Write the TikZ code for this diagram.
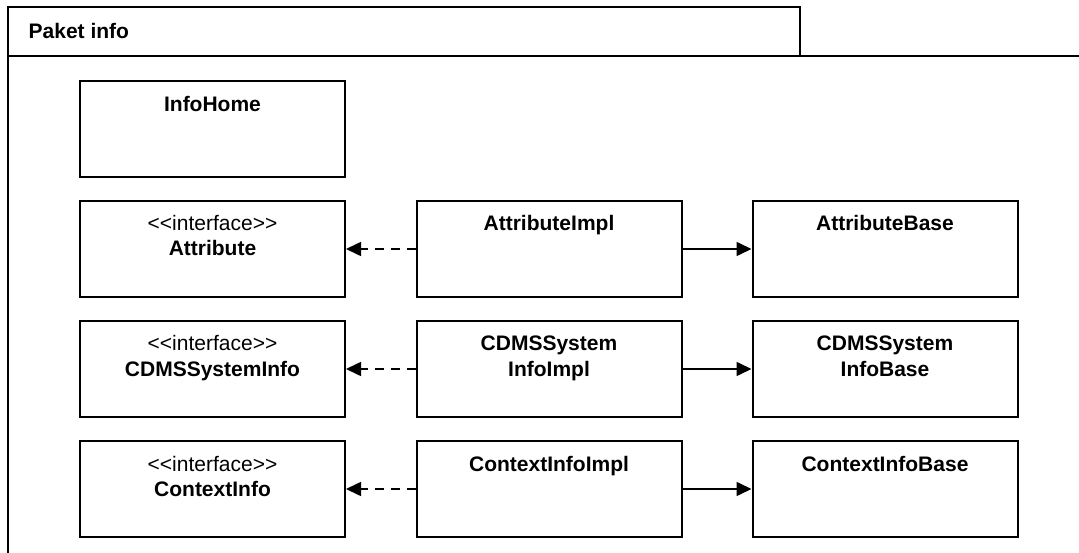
\documentclass[tikz,border=0pt]{standalone}
\usepackage{fontspec}
\setmainfont{Liberation Sans}
\usetikzlibrary{arrows.meta}
\newcommand{\stereotext}{{<}{<}interface{>}{>}}
\begin{document}
\begin{tikzpicture}[x=1pt,y=-1pt,
  frame/.style={line width=2pt, draw=black},
  classbox/.style={draw=black, line width=2pt, minimum width=265pt, minimum height=96pt, inner sep=0pt, anchor=north west},
  title/.style={font=\fontsize{21}{25}\selectfont\bfseries, anchor=base, inner sep=0pt},
  stereo/.style={font=\fontsize{21}{25}\selectfont, anchor=base, inner sep=0pt},
  realize/.style={line width=1.6pt, dash pattern=on 9pt off 7pt, -{Triangle[length=15pt,width=14pt]}},
  assoc/.style={line width=1.6pt, -{Triangle[length=15pt,width=14pt]}}
]
\useasboundingbox (0,0) rectangle (1079,553);
% package frame
\draw[frame] (8,553) -- (8,7) -- (800,7) -- (800,56);
\draw[frame] (8,56) -- (1079,56);
\node[title, anchor=base west] (pk) at (28.5,39) {Paket info};

% boxes
\node[classbox] (home) at (79,80) {};
\node[title] (thome) at ([yshift=-31.5pt]home.north) {InfoHome};

\node[classbox] (attr) at (79,200) {};
\node[stereo] (sattr) at ([yshift=-31pt]attr.north) {\stereotext};
\node[title] (tattr) at ([yshift=-56pt]attr.north) {Attribute};
\node[classbox] (attrimpl) at (415.5,200) {};
\node[title] (tattrimpl) at ([yshift=-31pt]attrimpl.north) {AttributeImpl};
\node[classbox] (attrbase) at (751.5,200) {};
\node[title] (tattrbase) at ([yshift=-31pt]attrbase.north) {AttributeBase};

\node[classbox] (cdms) at (79,320) {};
\node[stereo] (scdms) at ([yshift=-31pt]cdms.north) {\stereotext};
\node[title] (tcdms) at ([yshift=-56pt]cdms.north) {CDMSSystemInfo};
\node[classbox] (cdmsimpl) at (415.5,320) {};
\node[title] (tcdmsimpl1) at ([yshift=-31pt]cdmsimpl.north) {CDMSSystem};
\node[title] (tcdmsimpl2) at ([yshift=-56pt]cdmsimpl.north) {InfoImpl};
\node[classbox] (cdmsbase) at (751.5,320) {};
\node[title] (tcdmsbase1) at ([yshift=-31pt]cdmsbase.north) {CDMSSystem};
\node[title] (tcdmsbase2) at ([yshift=-56pt]cdmsbase.north) {InfoBase};

\node[classbox] (ctx) at (79,440) {};
\node[stereo] (sctx) at ([yshift=-31pt]ctx.north) {\stereotext};
\node[title] (tctx) at ([yshift=-56pt]ctx.north) {ContextInfo};
\node[classbox] (ctximpl) at (415.5,440) {};
\node[title] (tctximpl) at ([yshift=-31pt]ctximpl.north) {ContextInfoImpl};
\node[classbox] (ctxbase) at (751.5,440) {};
\node[title] (tctxbase) at ([yshift=-31pt]ctxbase.north) {ContextInfoBase};

% connectors
\draw[realize] (attrimpl.west) -- (attr.east);
\draw[assoc] (attrimpl.east) -- (attrbase.west);
\draw[realize] (cdmsimpl.west) -- (cdms.east);
\draw[assoc] (cdmsimpl.east) -- (cdmsbase.west);
\draw[realize] (ctximpl.west) -- (ctx.east);
\draw[assoc] (ctximpl.east) -- (ctxbase.west);
\end{tikzpicture}
\end{document}
